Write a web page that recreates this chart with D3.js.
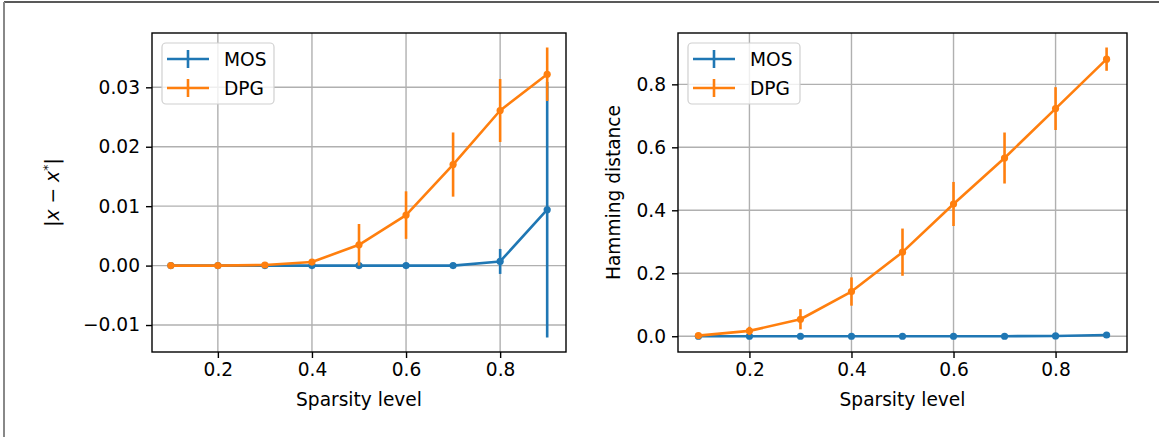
<!DOCTYPE html>
<html>
<head>
<meta charset="utf-8">
<script src="https://cdn.jsdelivr.net/npm/d3@7"></script>
<style>
  body { margin: 0; background: #fff; }
  svg { display: block; font-family: "DejaVu Sans", sans-serif; }
</style>
</head>
<body>
<script>
// data
const sparsity = [0.1, 0.2, 0.3, 0.4, 0.5, 0.6, 0.7, 0.8, 0.9];

// left panel: |x - x*|
const mosDist    = [0, 0, 0, 0, 0, 0, 0, 0.0007, 0.0094];
const mosDistErr = [0, 0, 0, 0, 0, 0, 0, 0.0021, 0.0215];
const dpgDist    = [0, 0, 0.0001, 0.0006, 0.0035, 0.0085, 0.0170, 0.0261, 0.0322];
const dpgDistErr = [0, 0, 0.0001, 0.0003, 0.0035, 0.0040, 0.0054, 0.0053, 0.0045];

// right panel: hamming distance
const mosHam    = [0, 0, 0, 0, 0, 0, 0, 0.001, 0.004];
const mosHamErr = [0, 0, 0, 0, 0, 0, 0, 0.001, 0.002];
const dpgHam    = [0.002, 0.017, 0.054, 0.142, 0.267, 0.420, 0.566, 0.723, 0.880];
const dpgHamErr = [0.006, 0.013, 0.032, 0.045, 0.075, 0.070, 0.081, 0.068, 0.037];

const xTicks = [0.2, 0.4, 0.6, 0.8];
const distTicks = [-0.01, 0, 0.01, 0.02, 0.03];
const hamTicks = [0, 0.2, 0.4, 0.6, 0.8];
const seriesNames = ["MOS", "DPG"];
const colors = ["#1f77b4", "#ff7f0e"];

//Variables
const width = 1159;
const height = 437;
const fontSize = 18.6;
const lw = 2.6;

const svg = d3.select("body")
  .append("svg")
  .attr("width", width)
  .attr("height", height);

// frame lines around the screenshot
svg.append("line").attr("x1", 4).attr("x2", width).attr("y1", 2).attr("y2", 2)
  .attr("stroke", "#222").attr("stroke-width", 1.5);
svg.append("line").attr("x1", 4).attr("x2", 4).attr("y1", 2).attr("y2", height)
  .attr("stroke", "#888").attr("stroke-width", 2);

function paddedDomain(vals, errs) {
  let lo = d3.min(vals.map((v, i) => v - errs[i]));
  let hi = d3.max(vals.map((v, i) => v + errs[i]));
  const m = (hi - lo) * 0.05;
  return [lo - m, hi + m];
}

function drawPanel(p) {
  const g = svg.append("g");
  const xExt = d3.extent(sparsity);
  const xm = (xExt[1] - xExt[0]) * 0.05;
  const x = d3.scaleLinear().domain([xExt[0] - xm, xExt[1] + xm]).range([p.left, p.right]);
  const allV = p.series.flatMap(s => s.vals);
  const allE = p.series.flatMap(s => s.errs);
  const y = d3.scaleLinear().domain(paddedDomain(allV, allE)).range([p.bottom, p.top]);

  // grid
  g.append("g").selectAll("line").data(xTicks).join("line")
    .attr("x1", d => x(d)).attr("x2", d => x(d))
    .attr("y1", p.top).attr("y2", p.bottom)
    .attr("stroke", "#b0b0b0").attr("stroke-width", 1.4);
  g.append("g").selectAll("line").data(p.yTicks).join("line")
    .attr("x1", p.left).attr("x2", p.right)
    .attr("y1", d => y(d)).attr("y2", d => y(d))
    .attr("stroke", "#b0b0b0").attr("stroke-width", 1.4);

  // axes
  const xAxis = g.append("g")
    .attr("transform", `translate(0,${p.bottom})`)
    .call(d3.axisBottom(x).tickValues(xTicks).tickFormat(d3.format(".1f")).tickSize(6).tickPadding(5));
  const yAxis = g.append("g")
    .attr("transform", `translate(${p.left},0)`)
    .call(d3.axisLeft(y).tickValues(p.yTicks).tickFormat(d3.format(p.fmt)).tickSize(6).tickPadding(6));
  [xAxis, yAxis].forEach(a => {
    a.select(".domain").remove();
    a.selectAll(".tick line").attr("stroke", "#000").attr("stroke-width", 1.4);
    a.selectAll(".tick text").attr("font-size", fontSize).attr("fill", "#000")
      .attr("font-family", "DejaVu Sans");
  });

  // series
  p.series.forEach((s, k) => {
    const sg = g.append("g");
    sg.selectAll("line.err").data(sparsity).join("line").attr("class", "err")
      .attr("x1", d => x(d)).attr("x2", d => x(d))
      .attr("y1", (d, i) => y(s.vals[i] - s.errs[i]))
      .attr("y2", (d, i) => y(s.vals[i] + s.errs[i]))
      .attr("stroke", colors[k]).attr("stroke-width", lw);
    sg.append("path")
      .datum(sparsity)
      .attr("d", d3.line().x(d => x(d)).y((d, i) => y(s.vals[i])))
      .attr("fill", "none").attr("stroke", colors[k]).attr("stroke-width", lw)
      .attr("stroke-linejoin", "round");
    sg.selectAll("circle").data(sparsity).join("circle")
      .attr("cx", d => x(d)).attr("cy", (d, i) => y(s.vals[i]))
      .attr("r", 3.6).attr("fill", colors[k]);
  });

  // frame
  g.append("rect")
    .attr("x", p.left).attr("y", p.top)
    .attr("width", p.right - p.left).attr("height", p.bottom - p.top)
    .attr("fill", "none").attr("stroke", "#000").attr("stroke-width", 1.4);

  // legend
  const lx = p.left + 10, ly = p.top + 10;
  const leg = g.append("g");
  leg.append("rect").attr("x", lx).attr("y", ly).attr("width", 112).attr("height", 61)
    .attr("rx", 4).attr("fill", "#fff").attr("fill-opacity", 0.8)
    .attr("stroke", "#d0d0d0").attr("stroke-width", 1.2);
  seriesNames.forEach((name, k) => {
    const cy = ly + 16 + k * 29;
    leg.append("line").attr("x1", lx + 5).attr("x2", lx + 47).attr("y1", cy).attr("y2", cy)
      .attr("stroke", colors[k]).attr("stroke-width", lw);
    leg.append("line").attr("x1", lx + 26).attr("x2", lx + 26).attr("y1", cy - 9).attr("y2", cy + 9)
      .attr("stroke", colors[k]).attr("stroke-width", lw);
    leg.append("text").attr("x", lx + 62).attr("y", cy + 6.5)
      .attr("font-size", fontSize).attr("fill", "#000").text(name);
  });

  // x label
  g.append("text")
    .attr("x", (p.left + p.right) / 2).attr("y", 406)
    .attr("text-anchor", "middle").attr("font-size", fontSize).attr("fill", "#000")
    .text("Sparsity level");

  // y label
  const yl = g.append("text")
    .attr("transform", `translate(${p.ylabelX},${(p.top + p.bottom) / 2}) rotate(-90)`)
    .attr("text-anchor", "middle").attr("font-size", fontSize).attr("fill", "#000");
  p.ylabel(yl);
}

drawPanel({
  left: 152, right: 566, top: 33, bottom: 352,
  yTicks: distTicks, fmt: ".2f", ylabelX: 59,
  series: [{ vals: mosDist, errs: mosDistErr }, { vals: dpgDist, errs: dpgDistErr }],
  ylabel: t => {
    t.append("tspan").text("|");
    t.append("tspan").attr("font-style", "italic").text("x");
    t.append("tspan").text(" \u2212 ");
    t.append("tspan").attr("font-style", "italic").text("x");
    t.append("tspan").attr("font-size", fontSize * 0.7).attr("dy", -7).text("*");
    t.append("tspan").attr("dy", 7).text("|");
  }
});

drawPanel({
  left: 678, right: 1127, top: 33, bottom: 352,
  yTicks: hamTicks, fmt: ".1f", ylabelX: 620,
  series: [{ vals: mosHam, errs: mosHamErr }, { vals: dpgHam, errs: dpgHamErr }],
  ylabel: t => t.text("Hamming distance")
});
</script>
</body>
</html>
